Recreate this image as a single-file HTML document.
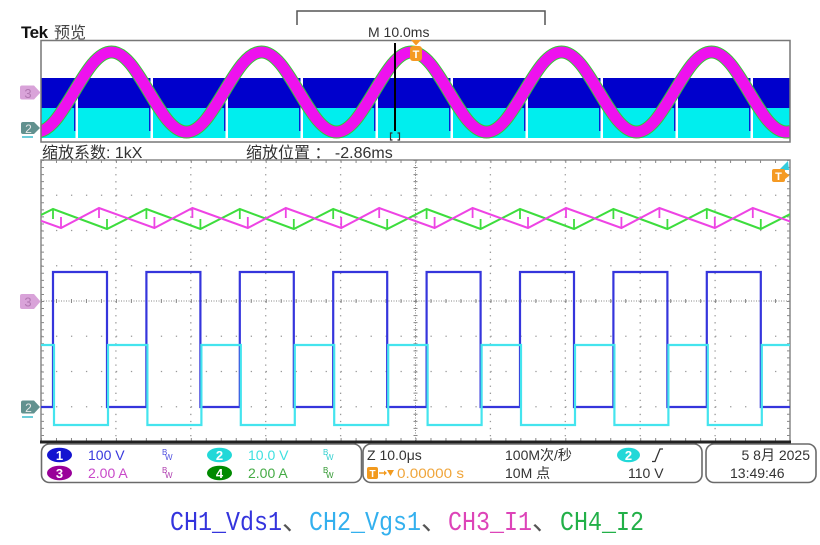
<!DOCTYPE html>
<html><head><meta charset="utf-8">
<style>html,body{margin:0;padding:0;background:#fff;}svg{display:block}</style>
</head><body>
<svg width="820" height="545" viewBox="0 0 820 545" xmlns="http://www.w3.org/2000/svg" font-family="'Liberation Sans','Noto Sans CJK SC',sans-serif">
<defs>
<clipPath id="cp1"><rect x="41" y="41" width="749" height="101"/></clipPath>
<clipPath id="cp2"><rect x="41" y="160" width="749" height="282"/></clipPath>
</defs>
<rect x="0" y="0" width="820" height="545" fill="#fff"/>

<!-- Header -->
<text x="21" y="38" font-size="17" font-weight="bold" fill="#111" letter-spacing="-0.5">Tek</text>
<text x="54" y="38" font-size="16" fill="#444" font-family="'Noto Sans CJK SC',sans-serif">预览</text>
<path d="M297,25 V11 H545 V25" fill="none" stroke="#555" stroke-width="1.5"/>
<text x="368" y="37" font-size="14" fill="#333">M 10.0ms</text>

<!-- Preview -->
<rect x="41" y="78" width="749" height="30" fill="#0000cc"/>
<rect x="41" y="108" width="749" height="30" fill="#00eeee"/>
<g fill="#fff">
<rect x="75.5" y="76" width="2.5" height="63"/><rect x="150.5" y="76" width="2.5" height="63"/>
<rect x="225.5" y="76" width="2.5" height="63"/><rect x="300.5" y="76" width="2.5" height="63"/>
<rect x="375.5" y="76" width="2.5" height="63"/><rect x="450.5" y="76" width="2.5" height="63"/>
<rect x="525.5" y="76" width="2.5" height="63"/><rect x="600.5" y="76" width="2.5" height="63"/>
<rect x="675.5" y="76" width="2.5" height="63"/><rect x="750.5" y="76" width="2.5" height="63"/>
</g>
<path d="M74.8,108V131 M149.8,108V131 M224.8,108V131 M299.8,108V131 M374.8,108V131 M449.8,108V131 M524.8,108V131 M599.8,108V131 M674.8,108V131 M749.8,108V131" stroke="#0000cc" stroke-width="1.3" fill="none"/>
<g clip-path="url(#cp1)" fill="none">
<path d="M-76,92 C-63.46,71 -52.07,52 -38.5,52 S-13.54,71 -1,92 S22.93,132 36.5,132 S61.46,113 74,92 S97.93,52 111.5,52 S136.46,71 149,92 S172.93,132 186.5,132 S211.46,113 224,92 S247.93,52 261.5,52 S286.46,71 299,92 S322.93,132 336.5,132 S361.46,113 374,92 S397.93,52 411.5,52 S436.46,71 449,92 S472.93,132 486.5,132 S511.46,113 524,92 S547.93,52 561.5,52 S586.46,71 599,92 S622.93,132 636.5,132 S661.46,113 674,92 S697.93,52 711.5,52 S736.46,71 749,92 S772.93,132 786.5,132 S811.46,113 824,92" stroke="#33cc33" stroke-width="13"/>
<path d="M-76,92 C-63.46,71 -52.07,52 -38.5,52 S-13.54,71 -1,92 S22.93,132 36.5,132 S61.46,113 74,92 S97.93,52 111.5,52 S136.46,71 149,92 S172.93,132 186.5,132 S211.46,113 224,92 S247.93,52 261.5,52 S286.46,71 299,92 S322.93,132 336.5,132 S361.46,113 374,92 S397.93,52 411.5,52 S436.46,71 449,92 S472.93,132 486.5,132 S511.46,113 524,92 S547.93,52 561.5,52 S586.46,71 599,92 S622.93,132 636.5,132 S661.46,113 674,92 S697.93,52 711.5,52 S736.46,71 749,92 S772.93,132 786.5,132 S811.46,113 824,92" stroke="#ee11ee" stroke-width="11"/>
</g>
<rect x="41" y="40.5" width="749" height="101.5" fill="none" stroke="#777" stroke-width="1.5"/>
<line x1="395" y1="43" x2="395" y2="131" stroke="#000" stroke-width="2"/>
<path d="M392.5,133 H390.5 V140 H392.5 M397.5,133 H399.5 V140 H397.5" stroke="#333" stroke-width="1.2" fill="none"/>
<polygon points="411,40 421,40 416,45.5" fill="#f59a23"/>
<rect x="410" y="46" width="12" height="15" rx="3" fill="#f59a23"/>
<text x="416" y="58" font-size="11" font-weight="bold" fill="#fff" text-anchor="middle">T</text>

<!-- Preview markers -->
<path d="M22,85.5 H34 L40.5,92.5 L34,99.5 H22 Q20,99.5 20,97.5 V87.5 Q20,85.5 22,85.5Z" fill="#d9a3d9"/>
<text x="28" y="98" font-size="13" fill="#b278b2" text-anchor="middle">3</text>
<path d="M23,122 H34 L40,128 L34,134 H23 Q21,134 21,132 V124 Q21,122 23,122Z" fill="#62918f"/>
<text x="28.5" y="133" font-size="12" fill="#e8e8e8" text-anchor="middle">2</text>
<line x1="22" y1="137" x2="33" y2="137" stroke="#3bbccc" stroke-width="1.5"/>

<!-- zoom text -->
<text x="42" y="158" font-size="16" fill="#333">缩放系数: 1kX</text>
<text x="246" y="158" font-size="16" fill="#333">缩放位置 ： -2.86ms</text>

<!-- Main graticule -->
<g stroke="#999" stroke-width="1.3" fill="none">
<g stroke-dasharray="1.3 5.75">
<line x1="115.9" y1="160" x2="115.9" y2="442"/><line x1="190.8" y1="160" x2="190.8" y2="442"/>
<line x1="265.7" y1="160" x2="265.7" y2="442"/><line x1="340.6" y1="160" x2="340.6" y2="442"/>
<line x1="490.4" y1="160" x2="490.4" y2="442"/><line x1="565.3" y1="160" x2="565.3" y2="442"/>
<line x1="640.2" y1="160" x2="640.2" y2="442"/><line x1="715.1" y1="160" x2="715.1" y2="442"/>
</g>
<g stroke-dasharray="1.3 13.68">
<line x1="41" y1="195.25" x2="790" y2="195.25"/><line x1="41" y1="230.5" x2="790" y2="230.5"/>
<line x1="41" y1="265.75" x2="790" y2="265.75"/><line x1="41" y1="336.25" x2="790" y2="336.25"/>
<line x1="41" y1="371.5" x2="790" y2="371.5"/><line x1="41" y1="406.75" x2="790" y2="406.75"/>
</g>
</g>
<g stroke="#888" fill="none">
<line x1="415.5" y1="160" x2="415.5" y2="442" stroke-width="1" stroke-dasharray="1 1.5"/>
<line x1="415.5" y1="160" x2="415.5" y2="442" stroke-width="4" stroke-dasharray="1 6.05"/>
<line x1="41" y1="301" x2="790" y2="301" stroke-width="1" stroke-dasharray="1 1.5"/>
<line x1="41" y1="301" x2="790" y2="301" stroke-width="4" stroke-dasharray="1 13.98"/>
<line x1="41" y1="161.5" x2="790" y2="161.5" stroke-width="3" stroke-dasharray="1 13.98"/>
<line x1="41" y1="439.5" x2="790" y2="439.5" stroke-width="3" stroke-dasharray="1 13.98"/>
<line x1="42.5" y1="160" x2="42.5" y2="442" stroke-width="3" stroke-dasharray="1 6.05"/>
<line x1="788.5" y1="160" x2="788.5" y2="442" stroke-width="3" stroke-dasharray="1 6.05"/>
</g>
<rect x="41" y="160" width="749" height="282" fill="none" stroke="#888" stroke-width="1.5"/>
<line x1="40" y1="442" x2="791" y2="442" stroke="#222" stroke-width="3"/>

<!-- Main waveforms -->
<g clip-path="url(#cp2)" fill="none" stroke-linejoin="miter">
<path d="M41,407 H53 V272 H107 V407 H146.4 V272 H200.4 V407 H239.8 V272 H293.8 V407 H333.2 V272 H387.2 V407 H426.6 V272 H480.6 V407 H520 V272 H574 V407 H613.4 V272 H667.4 V407 H706.8 V272 H760.8 V407 H790" stroke="#3535dc" stroke-width="2.2"/>
<path d="M41,345 H54 V425 H108 V345 H147.4 V425 H201.4 V345 H240.8 V425 H294.8 V345 H334.2 V425 H388.2 V345 H427.6 V425 H481.6 V345 H521 V425 H575 V345 H614.4 V425 H668.4 V345 H707.8 V425 H761.8 V345 H790" stroke="#44e4ee" stroke-width="2.2"/>
<path d="M41,215 L53,209 L107,229 L146.4,209 L200.4,229 L239.8,209 L293.8,229 L333.2,209 L387.2,229 L426.6,209 L480.6,229 L520,209 L574,229 L613.4,209 L667.4,229 L706.8,209 L760.8,229 L790,214.2" stroke="#3ddd3d" stroke-width="2"/>
<path d="M53,209V219 M146.4,209V219 M239.8,209V219 M333.2,209V219 M426.6,209V219 M520,209V219 M613.4,209V219 M706.8,209V219 M107,229V219 M200.4,229V219 M293.8,229V219 M387.2,229V219 M480.6,229V219 M574,229V219 M667.4,229V219 M760.8,229V219" stroke="#3ddd3d" stroke-width="1.8"/>
<path d="M41,220.8 L61,228 L99,208 L154.4,228 L192.4,208 L247.8,228 L285.8,208 L341.2,228 L379.2,208 L434.6,228 L472.6,208 L528,228 L566,208 L621.4,228 L659.4,208 L714.8,228 L752.8,208 L790,221.4" stroke="#ee44e4" stroke-width="2"/>
<path d="M61,228V217 M154.4,228V217 M247.8,228V217 M341.2,228V217 M434.6,228V217 M528,228V217 M621.4,228V217 M714.8,228V217 M99,208V218 M192.4,208V218 M285.8,208V218 M379.2,208V218 M472.6,208V218 M566,208V218 M659.4,208V218 M752.8,208V218" stroke="#ee44e4" stroke-width="1.8"/>
</g>

<!-- Main markers -->
<path d="M22,294 H34 L40.5,301.5 L34,309 H22 Q20,309 20,307 V296 Q20,294 22,294Z" fill="#d9a3d9"/>
<text x="28" y="306.5" font-size="13" fill="#b278b2" text-anchor="middle">3</text>
<path d="M23,400.5 H34 L40,407 L34,413.5 H23 Q21,413.5 21,411.5 V402.5 Q21,400.5 23,400.5Z" fill="#62918f"/>
<text x="28.5" y="412" font-size="12" fill="#e8e8e8" text-anchor="middle">2</text>
<line x1="22" y1="417" x2="33" y2="417" stroke="#3bbccc" stroke-width="1.5"/>
<polygon points="779,170 789,170 788,161" fill="#33ccdd"/>
<rect x="772" y="169" width="13" height="13" rx="2" fill="#f59a23"/>
<polygon points="784.5,171.5 789.5,175.5 784.5,179.5" fill="#f59a23"/>
<text x="778.5" y="180" font-size="11" font-weight="bold" fill="#fff" text-anchor="middle">T</text>

<!-- Status bar -->
<g fill="none" stroke="#6a6a6a" stroke-width="1.6">
<rect x="41.5" y="444" width="320" height="38.5" rx="8"/>
<rect x="363" y="444" width="339" height="38.5" rx="8"/>
<rect x="706" y="444" width="110" height="38.5" rx="8"/>
</g>
<ellipse cx="59.5" cy="455" rx="12.5" ry="7.3" fill="#1414d0"/>
<text x="59.5" y="460" font-size="13" font-weight="bold" fill="#fff" text-anchor="middle">1</text>
<ellipse cx="59.5" cy="473" rx="12.5" ry="7.3" fill="#990099"/>
<text x="59.5" y="478" font-size="13" font-weight="bold" fill="#fff" text-anchor="middle">3</text>
<ellipse cx="219.5" cy="455" rx="12.5" ry="7.3" fill="#22d8d8"/>
<text x="219.5" y="460" font-size="13" font-weight="bold" fill="#fff" text-anchor="middle">2</text>
<ellipse cx="219.5" cy="473" rx="12.5" ry="7.3" fill="#008a00"/>
<text x="219.5" y="478" font-size="13" font-weight="bold" fill="#fff" text-anchor="middle">4</text>
<g font-size="14">
<text x="88" y="460" fill="#3838dd">100 V</text>
<text x="248" y="460" fill="#3ee0e0">10.0 V</text>
<text x="88" y="478" fill="#c848c8">2.00 A</text>
<text x="248" y="478" fill="#44aa44">2.00 A</text>
</g>
<g font-size="8">
<text x="162" y="455" fill="#5050e0">B</text><text x="165" y="460" fill="#5050e0">W</text>
<text x="323" y="455" fill="#33d0d0">B</text><text x="326" y="460" fill="#33d0d0">W</text>
<text x="162" y="473" fill="#b040b0">B</text><text x="165" y="478" fill="#b040b0">W</text>
<text x="323" y="473" fill="#339933">B</text><text x="326" y="478" fill="#339933">W</text>
</g>
<text x="367" y="460" font-size="14" fill="#333">Z 10.0μs</text>
<rect x="367" y="467" width="11" height="12" rx="2" fill="#f29a1e"/>
<text x="372.5" y="477" font-size="10" font-weight="bold" fill="#fff" text-anchor="middle">T</text>
<path d="M379,473 H385" stroke="#f29a1e" stroke-width="1.5"/>
<polygon points="384,470.5 387,473 384,475.5" fill="#f29a1e"/>
<polygon points="387,470 394,470 390.5,476" fill="#f29a1e"/>
<text x="397" y="478" font-size="14" fill="#f0a53a" textLength="67" lengthAdjust="spacingAndGlyphs">0.00000 s</text>
<text x="505" y="460" font-size="14" fill="#333">100M次/秒</text>
<text x="505" y="478" font-size="14" fill="#333">10M 点</text>
<ellipse cx="628.5" cy="455" rx="11.5" ry="7.3" fill="#22d8d8"/>
<text x="628.5" y="460" font-size="13" font-weight="bold" fill="#fff" text-anchor="middle">2</text>
<path d="M652,461.5 H655 L660,449 H663" fill="none" stroke="#333" stroke-width="1.3"/>
<text x="628" y="478" font-size="14" fill="#333">110 V</text>
<text x="810" y="460" font-size="14" fill="#333" text-anchor="end">5 8月 2025</text>
<text x="730" y="478" font-size="14" fill="#333">13:49:46</text>

<!-- Caption -->
<g font-size="27" font-family="'Liberation Mono','Noto Sans CJK SC',monospace">
<text x="170" y="530" fill="#3434dd" textLength="112" lengthAdjust="spacingAndGlyphs">CH1_Vds1</text>
<text x="282" y="530" fill="#555" font-family="'Noto Sans CJK SC',sans-serif">、</text>
<text x="309" y="530" fill="#33b0ee" textLength="112" lengthAdjust="spacingAndGlyphs">CH2_Vgs1</text>
<text x="421" y="530" fill="#555" font-family="'Noto Sans CJK SC',sans-serif">、</text>
<text x="448" y="530" fill="#dd44b8" textLength="84" lengthAdjust="spacingAndGlyphs">CH3_I1</text>
<text x="532" y="530" fill="#555" font-family="'Noto Sans CJK SC',sans-serif">、</text>
<text x="560" y="530" fill="#22b048" textLength="84" lengthAdjust="spacingAndGlyphs">CH4_I2</text>
</g>
</svg>
</body></html>
